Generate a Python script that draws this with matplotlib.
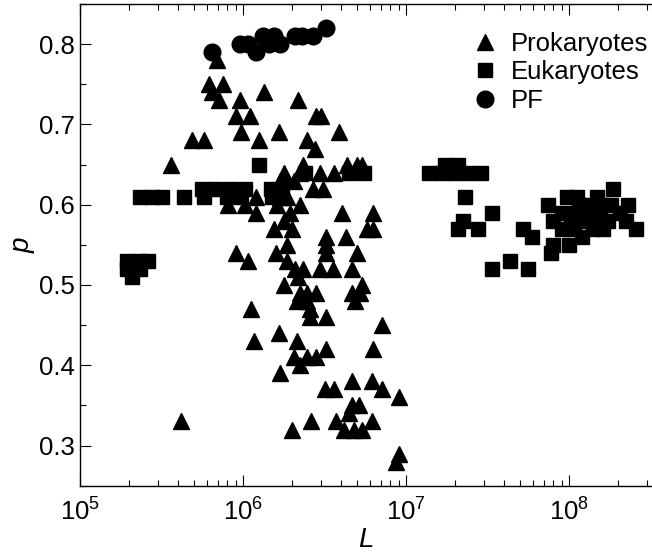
import numpy as np
import matplotlib
matplotlib.use("Agg")
import matplotlib.pyplot as plt
from matplotlib.ticker import LogLocator, MultipleLocator, NullFormatter

plt.rcParams['font.family'] = ['Liberation Sans', 'DejaVu Sans']
plt.rcParams['mathtext.default'] = 'regular'

# log10(L) and p
prok_logL = [5.84, 5.79, 5.88, 5.81, 5.85, 5.98, 6.13, 6.34, 5.96, 6.04,
             5.99, 6.10, 6.22, 6.39, 6.45, 6.48, 6.59, 6.44, 5.69, 5.76,
             5.56, 6.37, 6.25, 6.35, 6.47, 6.56, 6.64, 6.70, 6.73, 6.23,
             6.31, 6.43, 6.49, 6.08, 6.23, 6.27, 6.35, 5.91, 6.01, 6.08,
             6.21, 6.29, 6.61, 6.80, 6.76, 6.80, 6.19, 6.30, 6.25, 6.51,
             6.63, 6.27, 6.51, 6.51, 6.70, 5.96, 6.03, 6.20, 6.27, 6.32,
             6.37, 6.47, 6.55, 6.67, 6.34, 6.25, 6.35, 6.39, 6.45, 6.67,
             6.73, 6.72, 6.69, 6.33, 6.39, 6.41, 6.51, 6.05, 6.41, 6.85,
             6.07, 6.22, 6.33, 6.51, 6.80, 6.31, 6.39, 6.45, 6.35, 6.23,
             6.50, 6.56, 6.67, 6.79, 6.85, 6.96, 6.67, 6.71, 6.65, 6.30,
             6.42, 6.57, 6.62, 6.68, 6.73, 6.79, 6.96, 6.94, 5.62]
prok_p = [0.78, 0.75, 0.75, 0.74, 0.73, 0.73, 0.74, 0.73, 0.71, 0.71,
          0.69, 0.68, 0.69, 0.68, 0.71, 0.71, 0.69, 0.67, 0.68, 0.68,
          0.65, 0.65, 0.64, 0.64, 0.64, 0.64, 0.65, 0.65, 0.65, 0.63,
          0.63, 0.62, 0.62, 0.61, 0.61, 0.61, 0.60, 0.60, 0.60, 0.59,
          0.60, 0.59, 0.59, 0.59, 0.57, 0.57, 0.57, 0.57, 0.58, 0.56,
          0.56, 0.55, 0.55, 0.54, 0.54, 0.54, 0.53, 0.54, 0.53, 0.52,
          0.52, 0.52, 0.52, 0.52, 0.51, 0.50, 0.49, 0.49, 0.49, 0.49,
          0.50, 0.49, 0.48, 0.48, 0.48, 0.47, 0.46, 0.47, 0.46, 0.45,
          0.43, 0.44, 0.43, 0.42, 0.42, 0.41, 0.41, 0.41, 0.40, 0.39,
          0.37, 0.37, 0.38, 0.38, 0.37, 0.36, 0.35, 0.35, 0.34, 0.32,
          0.33, 0.33, 0.32, 0.32, 0.32, 0.33, 0.29, 0.28, 0.33]

euk_logL = [5.29, 5.36, 5.42, 5.29, 5.37, 5.32,
            5.37, 5.44, 5.50, 5.64, 5.76, 5.90, 5.99,
            5.75, 5.83, 5.92, 6.01, 6.10, 6.17, 6.24, 6.18,
            6.38, 6.65, 6.74,
            7.14, 7.22, 7.30, 7.38, 7.46, 7.24, 7.32,
            7.36, 7.35, 7.32, 7.44, 7.53, 7.53, 7.64, 7.75, 7.72, 7.77,
            7.87, 7.90, 7.90, 7.89, 7.99, 8.05, 8.17, 8.27, 8.36, 8.41,
            8.35, 8.00, 8.08, 7.96, 8.15, 8.24, 7.96, 8.04, 8.12, 8.19,
            8.26, 8.31, 8.01, 8.09, 8.17, 8.21, 8.13, 8.20, 8.06, 8.03]
euk_p = [0.53, 0.53, 0.53, 0.52, 0.52, 0.51,
         0.61, 0.61, 0.61, 0.61, 0.61, 0.61, 0.61,
         0.62, 0.62, 0.62, 0.62, 0.65, 0.62, 0.62, 0.61,
         0.64, 0.64, 0.64,
         0.64, 0.64, 0.64, 0.64, 0.64, 0.65, 0.65,
         0.61, 0.58, 0.57, 0.57, 0.59, 0.52, 0.53, 0.52, 0.57, 0.56,
         0.60, 0.58, 0.55, 0.54, 0.61, 0.61, 0.61, 0.62, 0.60, 0.57,
         0.58, 0.55, 0.56, 0.57, 0.57, 0.58, 0.59, 0.59, 0.59, 0.59,
         0.60, 0.59, 0.58, 0.58, 0.58, 0.57, 0.60, 0.60, 0.60, 0.57]

pf_logL = [5.81, 5.98, 6.03, 6.08, 6.12, 6.16, 6.19, 6.23, 6.32, 6.36, 6.43, 6.51]
pf_p = [0.79, 0.80, 0.80, 0.79, 0.81, 0.80, 0.81, 0.80, 0.81, 0.81, 0.81, 0.82]

fig = plt.figure(figsize=(6.52, 5.54), dpi=100)
ax = fig.add_axes([80/652, 1 - 485.7/554, 1 - 80/652, (485.7 - 4)/554])

ax.plot(10**np.array(prok_logL), prok_p, ls='none', marker='^', ms=11.5,
        color='black', mec='black', label='Prokaryotes')
ax.plot(10**np.array(euk_logL), euk_p, ls='none', marker='s', ms=10.5,
        color='black', mec='black', label='Eukaryotes')
ax.plot(10**np.array(pf_logL), pf_p, ls='none', marker='o', ms=12,
        color='black', mec='black', label='PF')

ax.set_xscale('log')
ax.set_xlim(1e5, 10**(5 + 572/163))
ax.set_ylim(0.25, 0.85)

ax.xaxis.set_major_locator(LogLocator(base=10, numticks=10))
ax.xaxis.set_minor_locator(LogLocator(base=10, subs=np.arange(2, 10), numticks=20))
ax.xaxis.set_minor_formatter(NullFormatter())
ax.yaxis.set_major_locator(MultipleLocator(0.1))
ax.yaxis.set_minor_locator(MultipleLocator(0.05))

ax.spines['right'].set_visible(False)
for s in ['left', 'bottom', 'top']:
    ax.spines[s].set_linewidth(1.0)

ax.tick_params(which='both', direction='in', top=True, right=False,
               labelsize=18.5, width=0.8)
ax.tick_params(which='major', length=8)
ax.tick_params(which='minor', length=4.5)
ax.tick_params(axis='y', pad=4)
ax.tick_params(axis='x', pad=9)

ax.set_xlabel('L', fontsize=20, style='italic', labelpad=1)
ax.set_ylabel('p', fontsize=20, style='italic', labelpad=2)

ax.legend(loc='upper left', bbox_to_anchor=(474.7/652, 1 - 32/554),
          bbox_transform=fig.transFigure, frameon=False, fontsize=18.5,
          handlelength=0.8, handletextpad=0.6, labelspacing=0.17,
          borderpad=0, borderaxespad=0, numpoints=1)

fig.savefig('out.png', dpi=100)
